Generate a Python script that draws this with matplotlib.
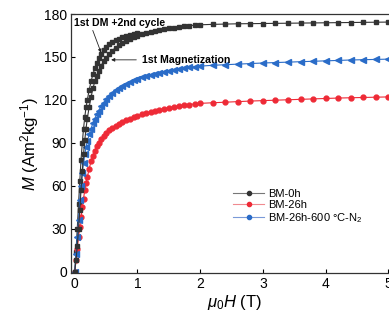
"""Room-temperature magnetization curves of ball-milled powders."""

import matplotlib
matplotlib.use("Agg")
import matplotlib.pyplot as plt

plt.rcParams["font.family"] = ["Liberation Sans", "DejaVu Sans"]
plt.rcParams["mathtext.fontset"] = "custom"
plt.rcParams["mathtext.rm"] = "Liberation Sans"
plt.rcParams["mathtext.it"] = "Liberation Sans:italic"

# applied field (T): dense sweep up to 2 T, then 0.2 T steps
field_low = [0, 0.02, 0.04, 0.06, 0.08, 0.10, 0.12, 0.14, 0.16, 0.18, 0.20,
             0.23, 0.26, 0.29, 0.32, 0.35, 0.38, 0.42, 0.46, 0.50, 0.55,
             0.60, 0.65, 0.70, 0.76, 0.82, 0.88, 0.94, 1.00, 1.07, 1.14,
             1.21, 1.28, 1.35, 1.42, 1.50, 1.58, 1.66, 1.74, 1.82, 1.91, 2.00]
field_high = [2.2, 2.4, 2.6, 2.8, 3.0, 3.2, 3.4, 3.6, 3.8, 4.0, 4.2, 4.4,
              4.6, 4.8, 5.0]
field = field_low + field_high

# BM-0h, first magnetization
m_bm0 = [0, 8, 18, 30, 43, 57, 70, 82, 92, 100, 107, 115, 122, 128, 133,
         137, 140.5, 144, 147, 149.5, 152, 154.5, 156.5, 158.2, 160, 161.5,
         162.8, 164, 165, 166, 166.8, 167.6, 168.3, 168.9, 169.5, 170.1,
         170.6, 171.1, 171.5, 171.9, 172.2, 172.5,
         172.8, 173.0, 173.2, 173.3, 173.4, 173.5, 173.6, 173.7, 173.8,
         173.9, 174.0, 174.1, 174.2, 174.3, 174.4]
# BM-0h, after demagnetization + 2nd cycle (up to 1 T)
field_cycle = field_low[:29]
m_bm0_cycle = [0, 14, 30, 47, 63, 78, 90, 100, 108, 115, 120, 127, 133, 138,
               142, 146, 149, 152, 155, 157, 159, 160.5, 161.8, 162.8, 163.8,
               164.6, 165.3, 166, 166.6]
# BM-26h
m_bm26 = [0, 8, 16, 24, 31, 38, 45, 51, 57, 62, 66, 72, 77, 81, 84.5, 87.5,
          90, 92.5, 94.8, 96.8, 98.8, 100.5, 102, 103.3, 104.7, 105.9, 107,
          108, 108.9, 109.9, 110.8, 111.6, 112.4, 113.1, 113.8, 114.5, 115.1,
          115.7, 116.2, 116.7, 117.2, 117.6,
          118.0, 118.4, 118.8, 119.2, 119.5, 119.8, 120.1, 120.4, 120.7,
          121.0, 121.3, 121.5, 121.7, 121.9, 122.1]
# BM-26h annealed at 600 C in N2
m_bm26_ann = [0, 12, 24, 36, 50, 60, 69, 76, 82, 87, 91, 96, 100, 104, 107,
              110, 112.5, 115.5, 118, 120.3, 122.8, 125, 126.8, 128.4, 130,
              131.4, 132.6, 133.7, 134.7, 135.7, 136.6, 137.5, 138.3, 139,
              139.7, 140.4, 141, 141.6, 142.2, 142.7, 143.2, 143.6,
              144.2, 144.6, 145.0, 145.4, 145.8, 146.1, 146.4, 146.7, 147.0,
              147.3, 147.6, 147.9, 148.1, 148.3, 148.5]

BLACK = "#333333"
RED = "#ee2a36"
BLUE = "#2a6cc8"

fig = plt.figure(figsize=(3.89, 3.27), dpi=100)
ax = fig.add_axes([0.1825, 0.165, 0.84, 0.792])

ax.plot(field_cycle, m_bm0_cycle, color=BLACK, lw=0.8, marker="s", ms=3,
        mec=BLACK, mfc=BLACK)
ax.plot(field, m_bm26, color=RED, lw=0.8, marker="o", ms=3.5, mec=RED,
        mfc=RED)
ax.plot(field, m_bm26_ann, color=BLUE, lw=0.8, marker="<", ms=3.8, mec=BLUE,
        mfc=BLUE)
ax.plot(field, m_bm0, color=BLACK, lw=0.8, marker="s", ms=3, mec=BLACK,
        mfc=BLACK)

# legend handles: thin line with a small dot
h0, = ax.plot([], [], color="#777777", lw=0.8, marker="o", ms=3, mfc=BLACK,
              mec=BLACK)
h1, = ax.plot([], [], color="#f08a90", lw=0.8, marker="o", ms=3, mfc=RED,
              mec=RED)
h2, = ax.plot([], [], color="#7a9ad8", lw=0.8, marker="o", ms=3, mfc=BLUE,
              mec=BLUE)
fig.legend([h0, h1, h2], ["BM-0h", "BM-26h", "BM-26h-600 \u00b0C-N$_2$"],
           loc="upper left", bbox_to_anchor=(0.585, 0.44), frameon=False,
           fontsize=8, handlelength=2.8, handletextpad=0.35,
           labelspacing=0.1, borderpad=0)

ax.annotate("1st DM +2nd cycle", xy=(0.42, 153), xytext=(-0.02, 174),
            fontsize=7.6, fontweight="bold", ha="left", va="center",
            arrowprops=dict(arrowstyle="-|>", color="#222222", lw=0.6,
                            mutation_scale=5, shrinkA=0, shrinkB=0,
                            relpos=(0.2, 0.0)))
ax.annotate("1st Magnetization", xy=(0.58, 148), xytext=(1.07, 148),
            fontsize=7.6, fontweight="bold", ha="left", va="center",
            arrowprops=dict(arrowstyle="-|>", color="#222222", lw=0.6,
                            mutation_scale=5, shrinkA=2, shrinkB=0))

ax.set_xlim(-0.06, 5.15)
ax.set_ylim(-1, 180)
ax.set_xticks([0, 1, 2, 3, 4, 5])
ax.set_yticks([0, 30, 60, 90, 120, 150, 180])
ax.tick_params(direction="in", length=3, width=0.8, labelsize=10, pad=3)
for s in ax.spines.values():
    s.set_linewidth(0.9)
    s.set_color("#333333")

ax.set_xlabel(r"$\mu_0H$ (T)", fontsize=12, labelpad=1)
ax.set_ylabel(r"$M$ (Am$^2$kg$^{-1}$)", fontsize=12, labelpad=2)

fig.savefig("out.png", dpi=100)
